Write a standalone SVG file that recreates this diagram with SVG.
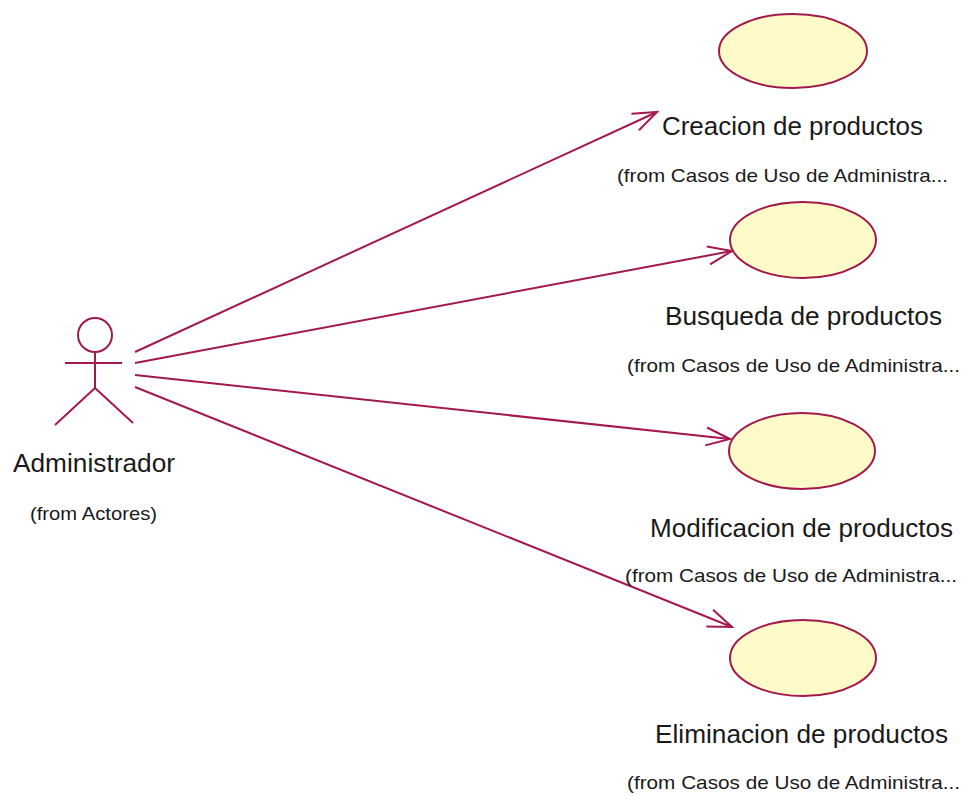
<svg xmlns="http://www.w3.org/2000/svg" width="963" height="796" viewBox="0 0 963 796">
<style>
  .ln { stroke:#A3194B; stroke-width:2; fill:none; }
  .uc { fill:#FFFBC8; stroke:#A3194B; stroke-width:2; }
  .big { font-family:"Liberation Sans", Arial, sans-serif; font-size:26px; fill:#1a1a1a; }
  .small { font-family:"Liberation Sans", Arial, sans-serif; font-size:19px; fill:#1a1a1a; }
</style>
<defs>
  <marker id="open" markerUnits="userSpaceOnUse" markerWidth="30" markerHeight="24" viewBox="-26 -12 30 24" refX="0" refY="0" orient="auto">
    <path d="M -24 -9 L 0 0 L -24 9" fill="none" stroke="#A3194B" stroke-width="2"/>
  </marker>
</defs>
<rect width="963" height="796" fill="#ffffff"/>
<g id="connectors">
  <line class="ln" x1="135" y1="352" x2="657" y2="112" marker-end="url(#open)"/>
  <line class="ln" x1="135" y1="363" x2="732" y2="251" marker-end="url(#open)"/>
  <line class="ln" x1="135" y1="375" x2="730" y2="439" marker-end="url(#open)"/>
  <line class="ln" x1="135" y1="387" x2="732" y2="627" marker-end="url(#open)"/>
</g>
<g id="actor">
  <circle class="ln" cx="95" cy="335" r="17"/>
  <line class="ln" x1="65" y1="363" x2="122" y2="363"/>
  <line class="ln" x1="95" y1="352" x2="95" y2="388"/>
  <line class="ln" x1="95" y1="388" x2="55" y2="425"/>
  <line class="ln" x1="95" y1="388" x2="133" y2="423"/>
  <text class="big" x="13" y="472" textLength="162" lengthAdjust="spacingAndGlyphs">Administrador</text>
  <text class="small" x="30" y="520" textLength="127" lengthAdjust="spacingAndGlyphs">(from Actores)</text>
</g>
<g id="uc1">
  <ellipse class="uc" cx="793" cy="51" rx="74" ry="37"/>
  <text class="big" x="662" y="135" textLength="261" lengthAdjust="spacingAndGlyphs">Creacion de productos</text>
  <text class="small" x="617" y="182" textLength="331" lengthAdjust="spacingAndGlyphs">(from Casos de Uso de Administra...</text>
</g>
<g id="uc2">
  <ellipse class="uc" cx="803" cy="240" rx="73" ry="38"/>
  <text class="big" x="665" y="325" textLength="277" lengthAdjust="spacingAndGlyphs">Busqueda de productos</text>
  <text class="small" x="627" y="372" textLength="333" lengthAdjust="spacingAndGlyphs">(from Casos de Uso de Administra...</text>
</g>
<g id="uc3">
  <ellipse class="uc" cx="802" cy="451" rx="73" ry="38"/>
  <text class="big" x="650" y="537" textLength="303" lengthAdjust="spacingAndGlyphs">Modificacion de productos</text>
  <text class="small" x="625" y="582" textLength="332" lengthAdjust="spacingAndGlyphs">(from Casos de Uso de Administra...</text>
</g>
<g id="uc4">
  <ellipse class="uc" cx="803" cy="658" rx="73" ry="38"/>
  <text class="big" x="655" y="743" textLength="293" lengthAdjust="spacingAndGlyphs">Eliminacion de productos</text>
  <text class="small" x="627" y="789" textLength="333" lengthAdjust="spacingAndGlyphs">(from Casos de Uso de Administra...</text>
</g>
</svg>
